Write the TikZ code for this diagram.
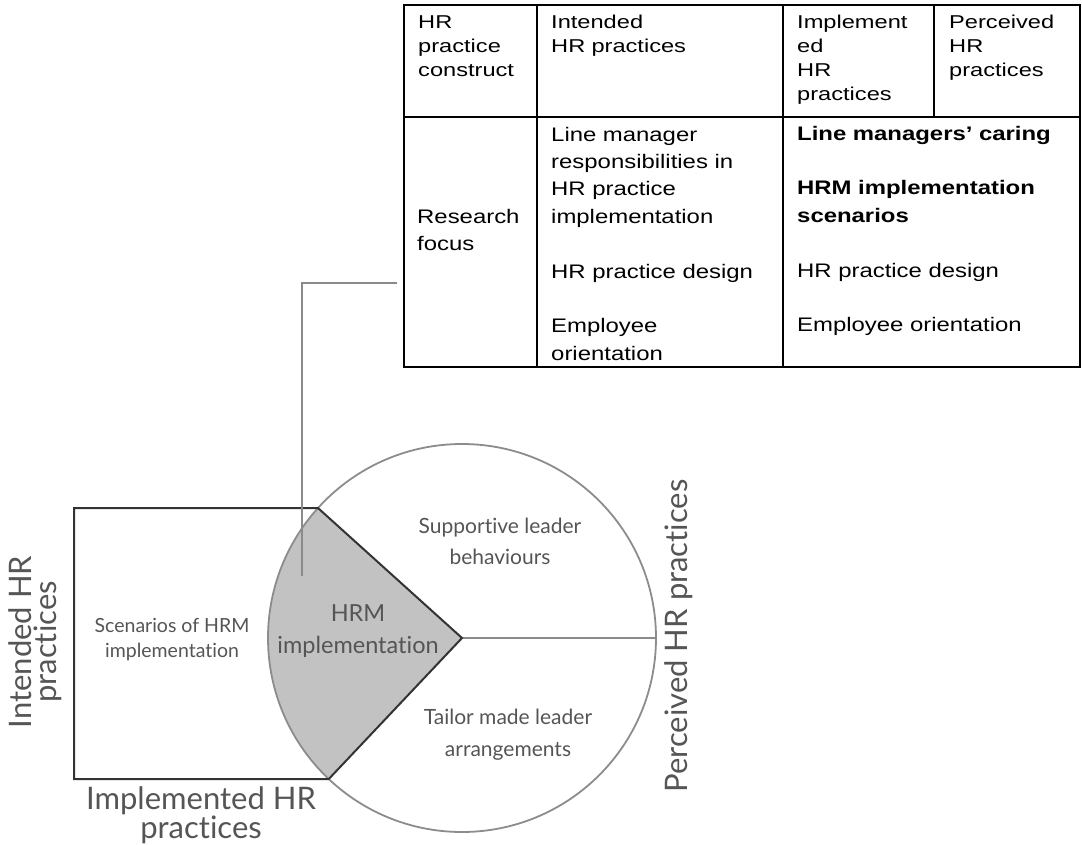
\documentclass[tikz,border=0pt]{standalone}
\usepackage{fontspec}
\usetikzlibrary{calc}
\setmainfont{Liberation Sans}
\newfontfamily\tabh[FakeStretch=1.27]{Liberation Sans}
\newfontfamily\tabb[FakeStretch=1.22]{Liberation Sans}
\newfontfamily\latofont[Ligatures=NoCommon]{Lato}
\definecolor{darkline}{HTML}{333333}
\definecolor{circline}{HTML}{8C8C8C}
\definecolor{sectorfill}{HTML}{C2C2C2}
\definecolor{linkgray}{HTML}{8A8A8A}
\definecolor{diagtext}{HTML}{555555}
\begin{document}
\begin{tikzpicture}[x=1pt,y=-1pt,
  tline/.style={line width=2.4pt,black},
  hcell/.style={anchor=base west,inner sep=0pt,align=left,text width=#1,font=\tabh\fontsize{18.6}{24.3}\selectfont},
  bcell/.style={anchor=base west,inner sep=0pt,align=left,text width=#1,font=\tabb\fontsize{19.6}{27.4}\selectfont},
  dtext/.style 2 args={inner sep=0pt,align=center,text=diagtext,font=\latofont\fontsize{#1}{#2}\selectfont},
  bigl/.style={inner sep=0pt,align=center,text=diagtext,font=\latofont\fontsize{31}{25}\selectfont},
  darkl/.style={line width=2pt,darkline,line join=miter},
  circl/.style={line width=1.8pt,circline},
  link/.style={line width=2pt,linkgray}]
\useasboundingbox (0,0) rectangle (1082,844);

% ---------- table ----------
\draw[tline] (404,5) rectangle (1080,367);
\draw[tline] (404,117) -- (1080,117);
\draw[tline] (537,5) -- (537,367);
\draw[tline] (783,5) -- (783,367);
\draw[tline] (934,5) -- (934,117);

\node[hcell=115pt] (h1) at (418,28) {HR\\practice\\construct};
\node[hcell=225pt] (h2) at (551,28) {Intended\\HR practices};
\node[hcell=135pt] (h3) at (797,28) {Implement\\ed\\HR\\practices};
\node[hcell=130pt] (h4) at (949,28) {Perceived\\HR\\practices};

\node[bcell=115pt] (b1) at (417,223) {Research\\focus};
\node[bcell=230pt] (b2) at (551,141) {Line manager\\responsibilities in\\HR practice\\implementation\\[27.4pt]HR practice design\\[27.4pt]Employee\\orientation};
\node[bcell=280pt] (b3) at (797,140) {\textbf{Line managers’ caring}\\[27.4pt]\textbf{HRM implementation}\\\textbf{scenarios}\\[27.4pt]HR practice design\\[27.4pt]Employee orientation};

% ---------- diagram ----------
\coordinate (C) at (462,638);
\coordinate (T) at ($(C)+(222.07:194)$);
\coordinate (B) at ($(C)+(133.37:194)$);
\coordinate (R) at (656,638);
\coordinate (SqTL) at (74,508);
\coordinate (SqBL) at (74,779);

\fill[sectorfill] (C) -- (B) arc[start angle=133.37,end angle=222.07,radius=194] -- cycle;
\draw[circl] (C) circle[radius=194];
\draw[circl] (C) -- (R);
\draw[darkl] (SqTL) -- (T) -- (C) -- (B) -- (SqBL) -- cycle;

% connector from table to diagram
\coordinate (tabL) at (397,283);
\coordinate (linkEnd) at (302,576);
\draw[link] (tabL) -| (linkEnd);

\node[dtext={21}{31}] (sup) at (500,541) {Supportive leader\\behaviours};
\node[dtext={23.5}{32}] (hrm) at (358,631) {HRM\\implementation};
\node[dtext={21}{32}] (tail) at (508,735) {Tailor made leader\\arrangements};
\node[dtext={19.5}{25}] (scen) at (172,640) {Scenarios of HRM\\implementation};

\node[bigl,rotate=90] (perc) at (679,636) {Perceived HR practices};
\node[bigl,rotate=90] (intd) at (35,642) {Intended HR\\practices};
\node[bigl] (impl) at (201,815) {Implemented HR\\practices};
\end{tikzpicture}
\end{document}
